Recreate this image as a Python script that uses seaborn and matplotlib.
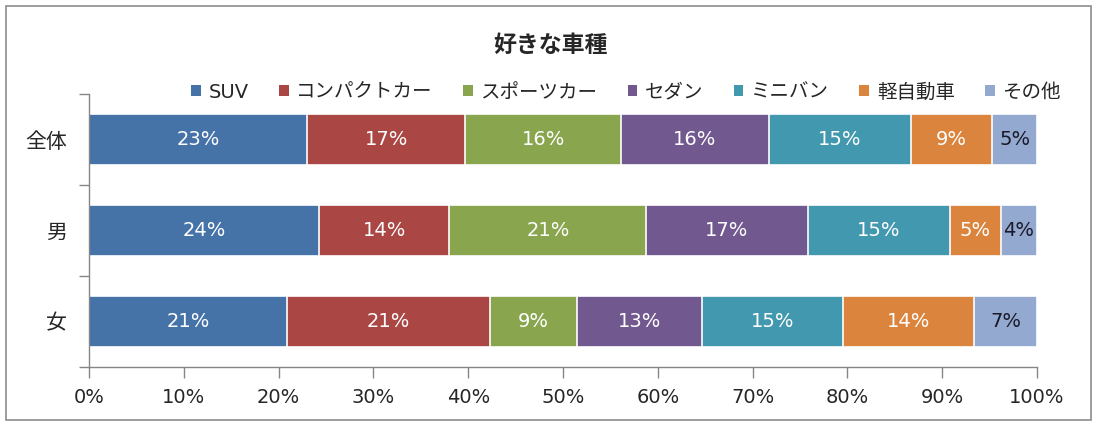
import numpy as np
import pandas as pd
import matplotlib
matplotlib.use('Agg')
import matplotlib.pyplot as plt
from matplotlib.patches import Patch, Rectangle
from matplotlib.ticker import FuncFormatter, FixedLocator
import seaborn as sns

# Data (percent of respondents)
groups = ['全体', '男', '女']
car_types = ['SUV', 'コンパクトカー', 'スポーツカー', 'セダン', 'ミニバン', '軽自動車', 'その他']
share_all = [23.0, 16.7, 16.4, 15.6, 15.0, 8.6, 4.7]
share_male = [24.3, 13.7, 20.8, 17.0, 15.0, 5.4, 3.8]
share_female = [20.9, 21.4, 9.2, 13.2, 14.8, 13.9, 6.6]
colors = ['#4572A7', '#AA4643', '#89A54E', '#71588F', '#4198AF', '#DB843D', '#93A9CF']

sns.set_style('white')
# Latin text in a Verdana-like face, Japanese falls back to Noto CJK
plt.rcParams['font.family'] = ['DejaVu Sans', 'Noto Sans CJK JP']

values = np.array([share_all, share_male, share_female])
cum = values.cumsum(axis=1)

# long-form table of cumulative widths, drawn largest first so segments overlap
rows = []
for gi, g in enumerate(groups):
    for ci, c in enumerate(car_types):
        rows.append({'group': g, 'type': c, 'cum': cum[gi, ci]})
df = pd.DataFrame(rows)

fig = plt.figure(figsize=(10.96, 4.25), dpi=100)
ax = fig.add_axes([89 / 1096, 1 - 367 / 425, (1037 - 89) / 1096, (367 - 94) / 425])

sns.barplot(data=df, x='cum', y='group', hue='type', hue_order=car_types[::-1],
            palette=colors[::-1], dodge=False, orient='h', width=0.55,
            edgecolor='white', linewidth=1.2, saturation=1, legend=False, ax=ax)

# segment labels
for gi in range(len(groups)):
    for ci in range(len(car_types)):
        v = values[gi, ci]
        xc = cum[gi, ci] - v / 2
        col = '#1a1a2a' if ci == len(car_types) - 1 else 'white'
        ax.text(xc, gi, f'{v:.0f}%', ha='center', va='center', fontsize=14, color=col)

ax.set_xlim(0, 100)
ax.set_ylim(2.5, -0.5)
ax.set_xticks(np.arange(0, 101, 10))
ax.xaxis.set_major_formatter(FuncFormatter(lambda x, p: f'{x:.0f}%'))
ax.yaxis.set_minor_locator(FixedLocator([-0.5, 0.5, 1.5, 2.5]))
ax.tick_params(axis='y', which='major', left=True, length=0, labelsize=15, pad=16)
ax.tick_params(axis='y', which='minor', left=True, length=7, width=1, color='#868686',
               direction='out')
ax.tick_params(axis='x', bottom=True, length=8, width=1, color='#868686', direction='out',
               labelsize=14, pad=7)
ax.set_xlabel('')
ax.set_ylabel('')
for s in ['top', 'right']:
    ax.spines[s].set_visible(False)
for s in ['left', 'bottom']:
    ax.spines[s].set_color('#868686')
    ax.spines[s].set_linewidth(1)

fig.text(550 / 1096, 1 - 45 / 425, '好きな車種', ha='center', va='center',
         fontsize=16.5, fontweight='bold')

handles = [Patch(facecolor=c, edgecolor='none') for c in colors]
fig.legend(handles, car_types, loc='center', bbox_to_anchor=(626 / 1096, 1 - 92 / 425),
           ncol=7, frameon=False, fontsize=14, handlelength=0.5, handleheight=0.5,
           handletextpad=0.4, columnspacing=1.55)

fig.patches.append(Rectangle((6 / 1096, 1 - 420 / 425), (1091 - 6) / 1096, (420 - 6) / 425,
                             transform=fig.transFigure, fill=False, edgecolor='#8c8c8c',
                             linewidth=1.2))

fig.savefig('out.png', dpi=100)
